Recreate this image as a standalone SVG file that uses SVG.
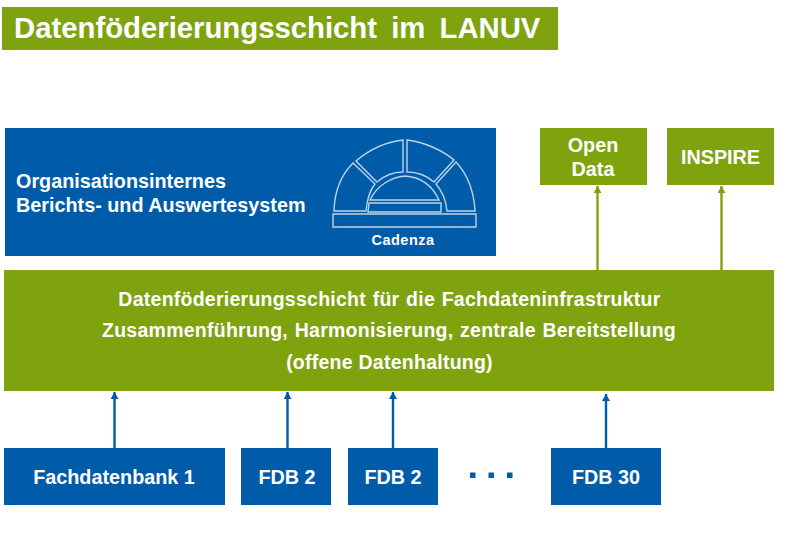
<svg xmlns="http://www.w3.org/2000/svg" width="800" height="544" viewBox="0 0 800 544">
<style>
text{font-family:"Liberation Sans",Arial,sans-serif;font-weight:bold;fill:#fff;text-anchor:middle}
.g{fill:#7ea30f}.b{fill:#005ca8}
.t{font-size:19.8px}
.m{font-size:19.5px;letter-spacing:.25px}
.o{font-size:19.8px;text-anchor:start}
.l{fill:none;stroke:#b9d3ea;stroke-width:1.4}
.cg{stroke:#7ea30f;stroke-width:2.4;fill:none}
.cb{stroke:#005ca8;stroke-width:2.4;fill:none}
</style>
<defs>
<marker id="ag" markerUnits="userSpaceOnUse" markerWidth="8" markerHeight="8" refX="7" refY="4" orient="auto"><path d="M0 0L7 4L0 8Z" fill="#7ea30f"/></marker>
<marker id="ab" markerUnits="userSpaceOnUse" markerWidth="8" markerHeight="8" refX="7" refY="4" orient="auto"><path d="M0 0L7 4L0 8Z" fill="#005ca8"/></marker>
</defs>
<rect width="800" height="544" fill="#fff"/>
<g id="title"><rect class="g" x="2" y="7" width="556" height="43"/><text x="14" y="38" style="font-size:29.300px;word-spacing:6px;text-anchor:start">Datenföderierungsschicht im LANUV</text></g>
<g id="connectors">
<path class="cg" d="M597.500 270V186" marker-end="url(#ag)"/>
<path class="cg" d="M721.500 270V186" marker-end="url(#ag)"/>
<path class="cb" d="M114.500 448V392" marker-end="url(#ab)"/>
<path class="cb" d="M287.500 448V392" marker-end="url(#ab)"/>
<path class="cb" d="M393 448V392" marker-end="url(#ab)"/>
<path class="cb" d="M606 448V394" marker-end="url(#ab)"/>
</g>
<g id="cadenza"><rect class="b" x="5" y="128" width="491" height="128"/>
<text x="16" y="188" class="o">Organisationsinternes</text>
<text x="16" y="212" class="o">Berichts- und Auswertesystem</text>
<path class="l" d="M334 211V210C335 186 344 172 353 163L375 184C370 190 367 200 366 211Z"/>
<path class="l" d="M356 161C370 149 386 142 403 140V172C393 172 385 175 377 182Z"/>
<path class="l" d="M407 140C424 142 442 150 454 160L434 182C426 175 417 172 407 172Z"/>
<path class="l" d="M456 162C468 175 474 192 475 211H447C446 200 442 191 436 184Z"/>
<path class="l" d="M370 200C377 185 392 177 405 176C420 177 432 185 439 200Z"/>
<path class="l" d="M369 203H441L441 212H368Z"/>
<path class="l" d="M333 214H476V227H333Z"/>
<text x="403" y="245" style="font-size:14.500px;letter-spacing:.5px">Cadenza</text></g>
<g id="opendata"><rect class="g" x="540" y="128" width="107" height="57"/><text x="593" y="152" class="t">Open</text><text x="593" y="175.500" class="t">Data</text></g>
<g id="inspire"><rect class="g" x="667" y="128" width="107" height="57"/><text x="720.500" y="164" class="t">INSPIRE</text></g>
<g id="schicht"><rect class="g" x="4" y="270" width="770" height="121"/>
<text x="389.500" y="306" class="m" style="word-spacing:1px">Datenföderierungsschicht für die Fachdateninfrastruktur</text>
<text x="389" y="337" class="m" style="word-spacing:1px">Zusammenführung, Harmonisierung, zentrale Bereitstellung</text>
<text x="389.500" y="369" class="m">(offene Datenhaltung)</text></g>
<g id="fdb1"><rect class="b" x="4" y="448" width="221" height="57"/><text x="114" y="484" class="t">Fachdatenbank 1</text></g>
<g id="fdb2a"><rect class="b" x="241" y="448" width="90" height="57"/><text x="287" y="484" class="t">FDB 2</text></g>
<g id="fdb2b"><rect class="b" x="348" y="448" width="90" height="57"/><text x="393" y="484" class="t">FDB 2</text></g>
<g id="dots"><rect class="b" x="470" y="472.500" width="5.500" height="5.500"/><rect class="b" x="488.500" y="472.500" width="5.500" height="5.500"/><rect class="b" x="507" y="472.500" width="5.500" height="5.500"/></g>
<g id="fdb30"><rect class="b" x="551" y="448" width="110" height="57"/><text x="606" y="484" class="t">FDB 30</text></g>
</svg>
